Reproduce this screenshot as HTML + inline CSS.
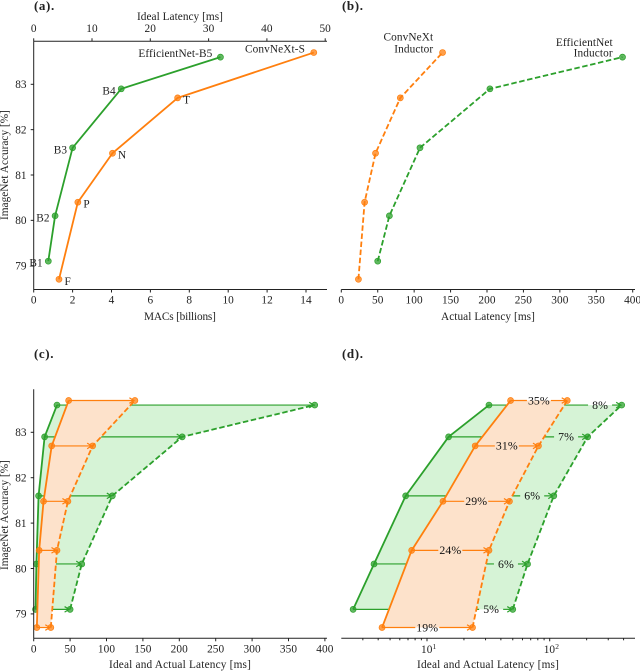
<!DOCTYPE html>
<html lang="en">
<head>
<meta charset="utf-8">
<title>Latency and accuracy chart</title>
<style>
html,body{margin:0;padding:0;background:#fff;width:640px;height:671px;overflow:hidden}
svg{display:block;filter:blur(.35px)}
text{font-family:"Liberation Serif",serif;font-size:11.3px;fill:#222;letter-spacing:.1px}
.t{text-anchor:middle}
.panel{font-size:13px;font-weight:bold;letter-spacing:.6px}
</style>
</head>
<body>
<svg id="fig" width="640" height="671" viewBox="0 0 640 671" xmlns="http://www.w3.org/2000/svg">
  <g id="chart-a"></g>
  <g id="chart-b"></g>
  <g id="chart-c"></g>
  <g id="chart-d"></g>

  <text class="panel" x="34" y="10">(a).</text>
  <text class="panel" x="342" y="10">(b).</text>
  <text class="panel" x="34" y="358">(c).</text>
  <text class="panel" x="342" y="358">(d).</text>

  <text class="t" x="180" y="20" textLength="86">Ideal Latency [ms]</text>
  <text class="t" x="180" y="320" textLength="72">MACs [billions]</text>
  <text class="t" x="488" y="320" textLength="94">Actual Latency [ms]</text>
  <text class="t" x="180" y="668" textLength="142">Ideal and Actual Latency [ms]</text>
  <text class="t" x="488" y="668" textLength="142">Ideal and Actual Latency [ms]</text>
  <text class="t" transform="translate(8,165) rotate(-90)" textLength="110">ImageNet Accuracy [%]</text>
  <text class="t" transform="translate(8,515) rotate(-90)" textLength="110">ImageNet Accuracy [%]</text>

  <text x="612.7" y="46" text-anchor="end">EfficientNet</text>
  <text x="612.7" y="56.7" text-anchor="end">Inductor</text>
  <text x="433.3" y="40.7" text-anchor="end">ConvNeXt</text>
  <text x="433.3" y="52.3" text-anchor="end">Inductor</text>
</svg>

<script>
const effMacs = [0.75, 1.1, 2.0, 4.5, 9.6];
const convMacs = [1.3, 2.27, 4.05, 7.4, 14.4];
const effAcc = [79.1, 80.1, 81.6, 82.9, 83.6];
const convAcc = [78.7, 80.4, 81.48, 82.7, 83.7];
const effIdeal = [2.5, 3.7, 6.7, 15, 32];
const convIdeal = [4.3, 7.5, 13.5, 24.7, 48];
const effActual = [50, 66, 108, 204, 386];
const convActual = [23.5, 32, 47, 81, 139];
const effNames = ['B1', 'B2', 'B3', 'B4', 'EfficientNet-B5'];
const convNames = ['F', 'P', 'N', 'T', 'ConvNeXt-S'];
const effPct = ['5%', '6%', '6%', '7%', '8%'];
const convPct = ['19%', '24%', '29%', '31%', '35%'];
const accTicks = [79, 80, 81, 82, 83];
const macTicks = [0, 2, 4, 6, 8, 10, 12, 14];
const idealTicks = [0, 10, 20, 30, 40, 50];
const latencyTicks = [0, 50, 100, 150, 200, 250, 300, 350, 400];
const logMajorTicks = [10, 100];
const logMajorLabels = ['1', '2'];
const logMinorTicks = [3, 4, 5, 6, 7, 8, 9, 20, 30, 40, 50, 60, 70, 80, 90, 200, 300, 400];

const GREEN = '#2ca02c', ORANGE = '#ff7f0e', GREEN_FILL = '#d6f3d6', ORANGE_FILL = '#fde2cb', AXIS = '#222';
const NS = 'http://www.w3.org/2000/svg';

function svgEl(tag, attrs, parent) {
  const e = document.createElementNS(NS, tag);
  for (const k in attrs) e.setAttribute(k, attrs[k]);
  parent.appendChild(e);
  return e;
}

const yTop = a => 84.3 + (83 - a) * 45.35;
const yBottom = a => 432.3 + (83 - a) * 45.4;
const xMacs = v => 33.7 + v * 19.45;
const xIdealTop = v => 33.7 + v * 5.83;
const xActualB = v => 341.3 + v * 0.7285;
const xLatencyC = v => 33.7 + v * 0.728;
const xLogD = v => 427 + (Math.log10(v) - 1) * 122.7;

function hLine(parent, x1, x2, y, name) {
  const l = svgEl('line', {x1: x1, x2: x2, y1: y, y2: y, stroke: AXIS, 'stroke-width': 1}, parent);
  
  
}

function vLine(parent, x, y1, y2, name) {
  const l = svgEl('line', {x1: x, x2: x, y1: y1, y2: y2, stroke: AXIS, 'stroke-width': 1}, parent);
  
  
}

function xTicks(parent, ticks, scale, axisY, dir, labelY, name) {
  ticks.forEach(v => {
    vLine(parent, scale(v), axisY, axisY + dir * 3, name + '-tick');
    const t = svgEl('text', {x: scale(v), y: labelY, 'text-anchor': 'middle'}, parent);
    
    
    t.textContent = String(v);
  });
}

function yTicks(parent, scale, axisX, name) {
  accTicks.forEach(v => {
    hLine(parent, axisX - 3, axisX, scale(v), name + '-tick');
    const t = svgEl('text', {x: axisX - 7, y: scale(v) + 3.8, 'text-anchor': 'end'}, parent);
    
    
    t.textContent = String(v);
  });
}

function drawSeries(parent, xs, ys, color, dashed, name) {
  const pts = xs.map((v, i) => v + ',' + ys[i]).join(' ');
  const line = svgEl('polyline', {points: pts, fill: 'none', stroke: color, 'stroke-width': 1.8, 'stroke-linejoin': 'round'}, parent);
  if (dashed) line.setAttribute('stroke-dasharray', '5.5 2.6');
  
  
  xs.forEach((v, i) => {
    const c = svgEl('circle', {cx: v, cy: ys[i], r: 3, fill: color, 'fill-opacity': 0.75, stroke: color, 'stroke-width': 0.7}, parent);
    
    
  });
}

function drawBand(parent, leftXs, rightXs, ys, fill, name) {
  const a = leftXs.map((v, i) => v + ',' + ys[i]);
  const b = rightXs.map((v, i) => v + ',' + ys[i]).reverse();
  const p = svgEl('polygon', {points: a.concat(b).join(' '), fill: fill}, parent);
  
  
}

function drawArrow(parent, x1, x2, y, color, gapCenter, name) {
  const w = 1.2;
  const tip = x2 - 1;
  if (gapCenter === null) {
    const l = svgEl('line', {x1: x1, x2: tip, y1: y, y2: y, stroke: color, 'stroke-width': w}, parent);
    
    
  } else {
    const l1 = svgEl('line', {x1: x1, x2: gapCenter - 12, y1: y, y2: y, stroke: color, 'stroke-width': w}, parent);
    
    
    const l2 = svgEl('line', {x1: gapCenter + 12, x2: tip, y1: y, y2: y, stroke: color, 'stroke-width': w}, parent);
    
    
  }
  const head = svgEl('polyline', {
    points: (tip - 4.5) + ',' + (y - 2.8) + ' ' + tip + ',' + y + ' ' + (tip - 4.5) + ',' + (y + 2.8),
    fill: 'none', stroke: color, 'stroke-width': w
  }, parent);
  
  
}

function drawPct(parent, x, y, label, name) {
  const t = svgEl('text', {x: x, y: y + 3.8, 'text-anchor': 'middle', style: 'font-size:11.8px;fill:#111'}, parent);
  
  
  t.textContent = label;
}

/* Panel (a) */
(function () {
  const g = document.getElementById('chart-a');
  hLine(g, 33.7, 327, 41.3, 'panel-a-top-spine');
  hLine(g, 33.7, 327, 289.5, 'panel-a-bottom-spine');
  vLine(g, 33.7, 41.3, 289.5, 'panel-a-left-spine');
  xTicks(g, macTicks, xMacs, 289.5, 1, 303.5, 'macs-axis');
  xTicks(g, idealTicks, xIdealTop, 41.3, -1, 32, 'ideal-latency-axis');
  yTicks(g, yTop, 33.7, 'panel-a-accuracy-axis');
  const ex = effMacs.map(xMacs), ey = effAcc.map(yTop);
  const cx = convMacs.map(xMacs), cy = convAcc.map(yTop);
  drawSeries(g, ex, ey, GREEN, false, 'efficientnet-macs');
  drawSeries(g, cx, cy, ORANGE, false, 'convnext-macs');
  effNames.forEach((n, i) => {
    const last = i === effNames.length - 1;
    const t = svgEl('text', {x: ex[i] + (last ? -8 : -5.5), y: ey[i] + (last ? 0 : 5.5), 'text-anchor': 'end'}, g);
    
    
    t.textContent = n;
  });
  convNames.forEach((n, i) => {
    const last = i === convNames.length - 1;
    const t = svgEl('text', {x: cx[i] + (last ? -8.8 : 5.5), y: cy[i] + (last ? 0 : 5.5), 'text-anchor': last ? 'end' : 'start'}, g);
    
    
    t.textContent = n;
  });
})();

/* Panel (b) */
(function () {
  const g = document.getElementById('chart-b');
  hLine(g, 341.3, 635, 289.5, 'panel-b-bottom-spine');
  xTicks(g, latencyTicks, xActualB, 289.5, 1, 303.5, 'actual-latency-axis');
  drawSeries(g, effActual.map(xActualB), effAcc.map(yTop), GREEN, true, 'efficientnet-inductor');
  drawSeries(g, convActual.map(xActualB), convAcc.map(yTop), ORANGE, true, 'convnext-inductor');
})();

/* Panels (c) and (d) share the band-and-arrow construction */
function drawComparison(g, scale, prefix, withLabels) {
  const ey = effAcc.map(yBottom), cy = convAcc.map(yBottom);
  const eiX = effIdeal.map(scale), eaX = effActual.map(scale);
  const ciX = convIdeal.map(scale), caX = convActual.map(scale);
  drawBand(g, eiX, eaX, ey, GREEN_FILL, prefix + '-efficientnet-band');
  effAcc.forEach((a, i) => {
    const mid = withLabels ? scale(effActual[i] / 1.5) : null;
    drawArrow(g, eiX[i], eaX[i], ey[i], GREEN, mid, prefix + '-efficientnet');
  });
  drawSeries(g, eiX, ey, GREEN, false, prefix + '-efficientnet-ideal');
  drawSeries(g, eaX, ey, GREEN, true, prefix + '-efficientnet-actual');
  drawBand(g, ciX, caX, cy, ORANGE_FILL, prefix + '-convnext-band');
  convAcc.forEach((a, i) => {
    const mid = withLabels ? scale(Math.sqrt(convIdeal[i] * convActual[i])) : null;
    drawArrow(g, ciX[i], caX[i], cy[i], ORANGE, mid, prefix + '-convnext');
  });
  drawSeries(g, ciX, cy, ORANGE, false, prefix + '-convnext-ideal');
  drawSeries(g, caX, cy, ORANGE, true, prefix + '-convnext-actual');
  if (withLabels) {
    effPct.forEach((p, i) => drawPct(g, scale(effActual[i] / 1.5), ey[i], p, 'efficientnet-overhead-label'));
    convPct.forEach((p, i) => drawPct(g, scale(Math.sqrt(convIdeal[i] * convActual[i])), cy[i], p, 'convnext-overhead-label'));
  }
}

/* Panel (c) */
(function () {
  const g = document.getElementById('chart-c');
  drawComparison(g, xLatencyC, 'panel-c', false);
  hLine(g, 33.7, 327, 638.3, 'panel-c-bottom-spine');
  vLine(g, 33.7, 389.3, 638.3, 'panel-c-left-spine');
  xTicks(g, latencyTicks, xLatencyC, 638.3, 1, 652.7, 'panel-c-latency-axis');
  yTicks(g, yBottom, 33.7, 'panel-c-accuracy-axis');
})();

/* Panel (d) */
(function () {
  const g = document.getElementById('chart-d');
  drawComparison(g, xLogD, 'panel-d', true);
  hLine(g, 341.3, 635, 638.3, 'panel-d-bottom-spine');
  logMinorTicks.forEach(v => vLine(g, xLogD(v), 638.3, 640.3, 'panel-d-minor-tick'));
  logMajorTicks.forEach((v, i) => {
    vLine(g, xLogD(v), 638.3, 641.3, 'panel-d-major-tick');
    const t = svgEl('text', {x: xLogD(v) - 6, y: 653}, g);
    
    
    t.textContent = '10';
    const s = svgEl('text', {x: xLogD(v) + 5.5, y: 649, style: 'font-size:7.5px'}, g);
    
    
    s.textContent = logMajorLabels[i];
  });
})();
</script>
</body>
</html>
